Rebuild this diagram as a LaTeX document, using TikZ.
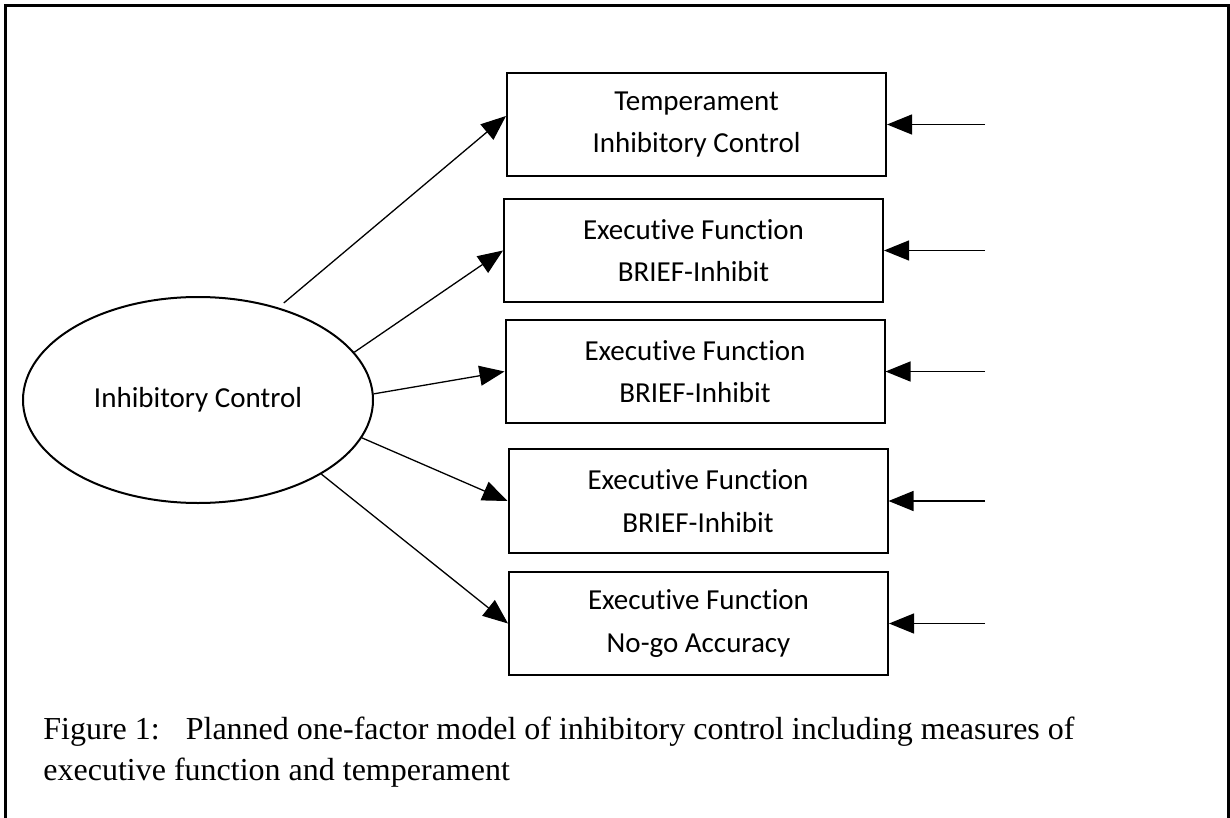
\documentclass[tikz,border=0pt]{standalone}
\usepackage{fontspec}
\setmainfont{Carlito}[Ligatures=NoCommon,RawFeature={-liga;-clig;-dlig}]
\newfontfamily\capfont{Liberation Serif}
\usetikzlibrary{shapes.geometric,arrows.meta}

\begin{document}
\begin{tikzpicture}[x=0.5pt,y=-0.5pt,
  >={Triangle[length=12.5pt,width=10pt]},
  measure/.style={draw,line width=1pt,minimum width=189.5pt,minimum height=51.5pt,
    inner sep=0pt,align=center,font=\fontsize{14.5}{21.3}\selectfont},
  latent/.style={ellipse,draw,line width=1pt,minimum width=175pt,minimum height=103pt,
    inner sep=0pt,font=\fontsize{14.5}{17}\selectfont},
  loading/.style={->,line width=0.65pt},
  captext/.style={anchor=base west,inner sep=0pt,font=\capfont\fontsize{16}{20.5}\selectfont}]

\useasboundingbox (0,0) rectangle (1230,818);
\draw[line width=1.5pt] (5,6) rectangle (1228,840);

% factor and its indicators
\node[latent] (ic) at (198,400) {Inhibitory Control};
\node[measure] (tic) at (696.5,124.5) {Temperament\\Inhibitory Control};
\node[measure] (ef1) at (693.5,250.5) {Executive Function\\BRIEF-Inhibit};
\node[measure] (ef2) at (695,371.5) {Executive Function\\BRIEF-Inhibit};
\node[measure,minimum height=52pt] (ef3) at (698,501) {Executive Function\\BRIEF-Inhibit};
\node[measure] (ng) at (698.5,623.5) {Executive Function\\No-go Accuracy};

% loadings
\draw[loading,shorten <=3.5pt] (ic.49) -- ([yshift=4.25pt]tic.west);
\draw[loading] (ic.17) -- (ef1.west);
\draw[loading] (ic.2) -- (ef2.west);
\draw[loading] (ic.-13) -- (ef3.west);
\draw[loading] (ic.-31) -- (ng.west);

% error terms
\coordinate (rx) at (985,0);
\foreach \n in {tic,ef1,ef2,ef3,ng} {
  \draw[loading] (rx |- \n.east) -- (\n.east);
}

\node[captext] (cap) at (43,739) {Figure 1:\hspace{13pt}Planned one-factor model of inhibitory control including measures of};
\node[captext] (capb) at (43,780) {executive function and temperament};

\end{tikzpicture}
\end{document}
